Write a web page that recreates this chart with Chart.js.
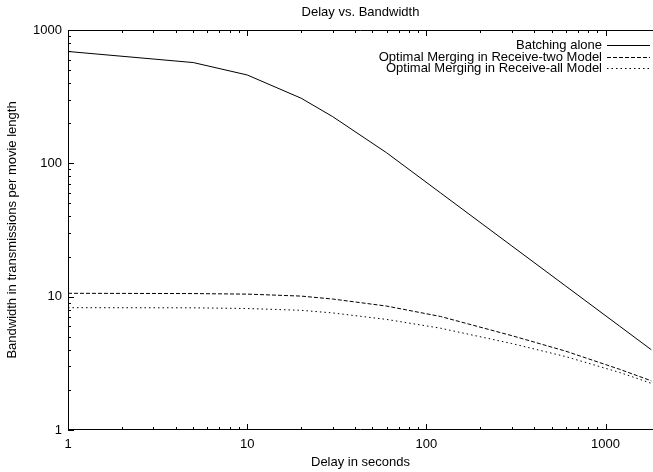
<!DOCTYPE html>
<html>
<head>
<meta charset="utf-8">
<script src="https://cdn.jsdelivr.net/npm/chart.js@4.4.1/dist/chart.umd.min.js"></script>
<style>
    html, body { margin: 0; padding: 0; background: #fff; }
    canvas { display: block; }
</style>
</head>
<body>
<canvas id="graficoAtraso" width="653" height="472"></canvas>
<script>
// atrasos em segundos (eixo x)
const atrasos = [1, 5, 10, 20, 30, 60, 120, 300, 600, 1200, 1800];

// largura de banda em transmissoes por filme
const batchingSozinho = [690, 570, 460, 308, 224, 120, 60, 24, 12, 6, 4];
const recebeDois = [10.6, 10.55, 10.45, 10.1, 9.6, 8.5, 7.1, 5.1, 3.9, 2.85, 2.34];
const recebeTodos = [8.27, 8.25, 8.15, 7.9, 7.55, 6.75, 5.8, 4.45, 3.55, 2.7, 2.24];

const nomesSeries = [
    "Batching alone",
    "Optimal Merging in Receive-two Model",
    "Optimal Merging in Receive-all Model",
];

const rotulosX = [1, 10, 100, 1000];
const rotulosY = [1, 10, 100, 1000];

const FONTE = "'Liberation Sans', Arial, Helvetica, sans-serif";

/**
 * ticks log: 1..9 de cada decada dentro do intervalo
 */
function ticksLog(min, max) {
    const lista = [];
    for (let p = 1; p <= max; p *= 10) {
        for (let m = 1; m < 10; m++) {
            const v = Math.round(m * p);
            if (v >= min && v <= max) lista.push({ value: v });
        }
    }
    return lista;
}

function ehPotencia(v) {
    return Math.abs(Math.log10(v) - Math.round(Math.log10(v))) < 1e-9;
}

// moldura e marcas para dentro, estilo gnuplot
const marcasInternas = {
    id: "marcasInternas",
    afterDatasetsDraw(chart) {
        const { ctx, chartArea: a, scales } = chart;
        ctx.save();
        ctx.strokeStyle = "#000";
        ctx.lineWidth = 1;
        ctx.setLineDash([]);
        ctx.beginPath();
        ctx.moveTo(a.left + 0.5, a.bottom - 0.5);
        ctx.lineTo(a.left + 0.5, a.top + 0.5);
        ctx.lineTo(a.right, a.top + 0.5);
        ctx.moveTo(a.left, a.bottom - 0.5);
        ctx.lineTo(a.right, a.bottom - 0.5);

        scales.x.ticks.forEach(t => {
            const px = Math.round(scales.x.getPixelForValue(t.value)) + 0.5;
            const len = ehPotencia(t.value) ? 6 : 3;
            ctx.moveTo(px, a.bottom);
            ctx.lineTo(px, a.bottom - len);
            ctx.moveTo(px, a.top);
            ctx.lineTo(px, a.top + len);
        });
        scales.y.ticks.forEach(t => {
            const py = Math.round(scales.y.getPixelForValue(t.value)) + 0.5;
            const len = ehPotencia(t.value) ? 6 : 3;
            ctx.moveTo(a.left, py);
            ctx.lineTo(a.left + len, py);
        });
        ctx.stroke();
        ctx.restore();
    },
};

// legenda a direita com amostra de linha depois do texto
const legendaGnuplot = {
    id: "legendaGnuplot",
    afterDatasetsDraw(chart) {
        const { ctx } = chart;
        const xTexto = 602;
        const xIni = 607;
        const xFim = 650;
        const linhas = [45, 57, 68];
        ctx.save();
        ctx.font = "13px " + FONTE;
        ctx.fillStyle = "#000";
        ctx.textAlign = "right";
        ctx.textBaseline = "middle";
        chart.data.datasets.forEach((ds, i) => {
            const y = linhas[i];
            ctx.fillText(ds.label, xTexto, y);
            ctx.beginPath();
            ctx.setLineDash(ds.borderDash || []);
            ctx.strokeStyle = ds.borderColor;
            ctx.lineWidth = 1;
            ctx.moveTo(xIni, y + 0.5);
            ctx.lineTo(xFim, y + 0.5);
            ctx.stroke();
        });
        ctx.restore();
    },
};

const paraPontos = valores => atrasos.map((x, i) => ({ x, y: valores[i] }));

const estiloBase = {
    borderColor: "#000",
    borderWidth: 1,
    pointRadius: 0,
    tension: 0,
    fill: false,
};

new Chart(document.getElementById("graficoAtraso").getContext("2d"), {
    type: "line",
    data: {
        datasets: [
            { ...estiloBase, label: nomesSeries[0], data: paraPontos(batchingSozinho), borderDash: [] },
            { ...estiloBase, label: nomesSeries[1], data: paraPontos(recebeDois), borderDash: [4, 2] },
            { ...estiloBase, label: nomesSeries[2], data: paraPontos(recebeTodos), borderDash: [1.5, 3] },
        ],
    },
    options: {
        responsive: false,
        animation: false,
        layout: { padding: 0 },
        plugins: {
            legend: { display: false },
            tooltip: { enabled: false },
            title: {
                display: true,
                fullSize: false,
                text: "Delay vs. Bandwidth",
                color: "#000",
                font: { family: FONTE, size: 13, weight: "normal" },
                padding: { top: 5, bottom: 9.4 },
            },
        },
        scales: {
            x: {
                type: "logarithmic",
                min: 1,
                max: 1840,
                grid: { display: false, drawTicks: false },
                border: { display: false },
                afterBuildTicks: s => { s.ticks = ticksLog(s.min, s.max); },
                afterFit: s => { s.height = 42; },
                ticks: {
                    autoSkip: false,
                    maxRotation: 0,
                    padding: 7,
                    color: "#000",
                    font: { family: FONTE, size: 13 },
                    callback: v => rotulosX.includes(v) ? String(v) : "",
                },
                title: {
                    display: true,
                    text: "Delay in seconds",
                    color: "#000",
                    font: { family: FONTE, size: 13 },
                    padding: { top: 0, bottom: 2 },
                },
            },
            y: {
                type: "logarithmic",
                min: 1,
                max: 1000,
                grid: { display: false, drawTicks: false },
                border: { display: false },
                afterBuildTicks: s => { s.ticks = ticksLog(s.min, s.max); },
                afterFit: s => { s.width = 68; },
                ticks: {
                    autoSkip: false,
                    padding: 6,
                    color: "#000",
                    font: { family: FONTE, size: 13 },
                    callback: v => rotulosY.includes(v) ? String(v) : "",
                },
                title: {
                    display: true,
                    text: "Bandwidth in transmissions per movie length",
                    color: "#000",
                    font: { family: FONTE, size: 13 },
                    padding: { top: 5, bottom: 0 },
                },
            },
        },
    },
    plugins: [marcasInternas, legendaGnuplot],
});
</script>
</body>
</html>
